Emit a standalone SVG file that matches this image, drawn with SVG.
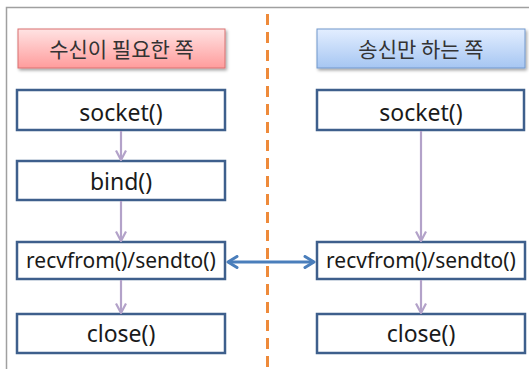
<svg xmlns="http://www.w3.org/2000/svg" width="529" height="369" viewBox="0 0 529 369">
<defs>
<linearGradient id="gRed" x1="0" y1="0" x2="0" y2="1">
<stop offset="0" stop-color="#FFE3E3"/>
<stop offset="1" stop-color="#FF9C9C"/>
</linearGradient>
<linearGradient id="gBlue" x1="0" y1="0" x2="0" y2="1">
<stop offset="0" stop-color="#E3EEFF"/>
<stop offset="1" stop-color="#A6C6F2"/>
</linearGradient>
<filter id="sh" x="-10%" y="-20%" width="120%" height="160%">
<feDropShadow dx="1.5" dy="2" stdDeviation="1.5" flood-color="#000" flood-opacity="0.35"/>
</filter>
<marker id="mL" viewBox="0 0 12 12" refX="11" refY="6" markerWidth="12" markerHeight="12" markerUnits="userSpaceOnUse" orient="auto">
<path d="M1.5,1 L11,6 L1.5,11" fill="none" stroke="#B3A2C9" stroke-width="2.2"/>
</marker>
<marker id="mB" viewBox="0 0 14 14" refX="12" refY="7" markerWidth="14" markerHeight="14" markerUnits="userSpaceOnUse" orient="auto-start-reverse">
<path d="M3,1.5 L12,7 L3,12.5" fill="none" stroke="#4A7EBB" stroke-width="3" stroke-linecap="round" stroke-linejoin="round"/>
</marker>
</defs>
<style>
.box{fill:#fff;stroke:#3E5F8C;stroke-width:2.5}
.t{font-family:"Noto Sans","Liberation Sans",sans-serif;font-size:23px;fill:#1a1a1a;text-anchor:middle}
.ts{font-size:21px}
.k{font-family:"Noto Sans CJK KR","Noto Sans",sans-serif;font-size:21px;fill:#333;text-anchor:middle}
.lv{stroke:#B3A2C9;stroke-width:2.2;fill:none;marker-end:url(#mL)}
</style>
<rect width="529" height="369" fill="#fff"/>
<path d="M6.5,369 V7.5 H529" fill="none" stroke="#A0A0A0" stroke-width="1.5"/>
<line x1="267.5" y1="14" x2="267.5" y2="369" stroke="#EE8A3A" stroke-width="3" stroke-dasharray="11,7"/>
<g id="hdrL"><rect x="18" y="29" width="207" height="39" fill="url(#gRed)" stroke="#D97070" stroke-width="1" filter="url(#sh)"/><text class="k" x="121.5" y="56.5">수신이 필요한 쪽</text></g>
<g id="hdrR"><rect x="317" y="29" width="208" height="39" fill="url(#gBlue)" stroke="#7097CC" stroke-width="1" filter="url(#sh)"/><text class="k" x="421" y="56.5">송신만 하는 쪽</text></g>
<g id="sockL"><rect class="box" x="17" y="90" width="208" height="40"/><text class="t" x="121" y="121">socket()</text></g>
<g id="bindL"><rect class="box" x="17" y="161" width="208" height="39"/><text class="t" x="121" y="190">bind()</text></g>
<g id="recvL"><rect class="box" x="17" y="242" width="208" height="37"/><text class="t ts" x="121" y="268">recvfrom()/sendto()</text></g>
<g id="closeL"><rect class="box" x="17" y="314" width="208" height="39"/><text class="t" x="121" y="342">close()</text></g>
<g id="sockR"><rect class="box" x="317" y="90" width="207" height="40"/><text class="t" x="421" y="121">socket()</text></g>
<g id="recvR"><rect class="box" x="317" y="242" width="208" height="37"/><text class="t ts" x="421" y="268">recvfrom()/sendto()</text></g>
<g id="closeR"><rect class="box" x="317" y="314" width="208" height="39"/><text class="t" x="421" y="342">close()</text></g>
<g id="connectors">
<line class="lv" x1="121" y1="131" x2="121" y2="160"/>
<line class="lv" x1="121" y1="201" x2="121" y2="241"/>
<line class="lv" x1="121" y1="280" x2="121" y2="313"/>
<line class="lv" x1="421" y1="131" x2="421" y2="241"/>
<line class="lv" x1="421" y1="280" x2="421" y2="313"/>
<line x1="228" y1="262" x2="314" y2="262" stroke="#4A7EBB" stroke-width="3" marker-start="url(#mB)" marker-end="url(#mB)"/>
</g>
</svg>
